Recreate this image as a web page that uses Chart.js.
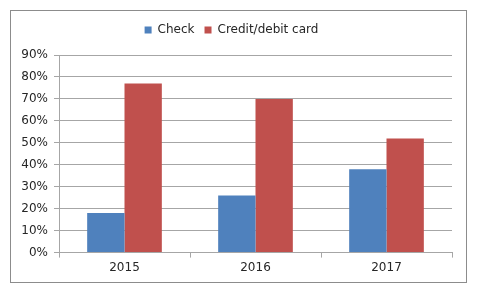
<!DOCTYPE html>
<html lang="en">
<head>
  <meta charset="UTF-8" />
  <title>Check vs Credit/debit card</title>
  <script src="https://cdn.jsdelivr.net/npm/chart.js"></script>
  <style>
    body {
      margin: 0;
      padding: 0;
      background: #ffffff;
    }

    .frame {
      position: absolute;
      left: 10px;
      top: 10px;
      width: 455px;
      height: 271px;
      border: 1px solid #8c8c8c;
    }
  </style>
</head>
<body>
  <div class="frame">
    <canvas id="payChart" width="455" height="271"></canvas>
  </div>

  <script>
    const years = ['2015', '2016', '2017'];
    const checkShare = [18, 26, 38];
    const cardShare = [77, 70, 52];
    const yTicks = [0, 10, 20, 30, 40, 50, 60, 70, 80, 90];

    Chart.defaults.font.family = "'DejaVu Sans', Verdana, sans-serif";
    Chart.defaults.font.size = 12;
    Chart.defaults.color = '#262626';

    // push the plot down a bit below the legend, like the original
    const legendGap = {
      id: 'legendGap',
      beforeInit(chart) {
        const fit = chart.legend.fit;
        chart.legend.fit = function () {
          fit.bind(chart.legend)();
          this.height += 9;
        };
      }
    };

    const ctx = document.getElementById('payChart').getContext('2d');
    new Chart(ctx, {
      type: 'bar',
      data: {
        labels: years,
        datasets: [
          {
            label: 'Check',
            data: checkShare,
            backgroundColor: '#4F81BD',
            barPercentage: 1,
            categoryPercentage: 0.57
          },
          {
            label: 'Credit/debit card',
            data: cardShare,
            backgroundColor: '#C0504D',
            barPercentage: 1,
            categoryPercentage: 0.57
          }
        ]
      },
      plugins: [legendGap],
      options: {
        responsive: false,
        animation: false,
        layout: {
          padding: { top: 3, right: 14, bottom: 4, left: 0 }
        },
        plugins: {
          legend: {
            position: 'top',
            labels: {
              boxWidth: 7,
              boxHeight: 7,
              padding: 10,
              color: '#262626'
            }
          },
          tooltip: { enabled: false }
        },
        scales: {
          x: {
            grid: {
              drawOnChartArea: false,
              drawTicks: true,
              tickLength: 5,
              color: '#a6a6a6'
            },
            border: { color: '#a6a6a6' },
            ticks: { padding: 3 }
          },
          y: {
            min: 0,
            max: 90,
            afterFit: scale => { scale.width = 48; },
            afterBuildTicks: scale => {
              scale.ticks = yTicks.map(v => ({ value: v }));
            },
            grid: {
              color: '#a6a6a6',
              tickLength: 5
            },
            border: { color: '#a6a6a6' },
            ticks: {
              padding: 6,
              callback: v => v + '%'
            }
          }
        }
      }
    });
  </script>
</body>
</html>
